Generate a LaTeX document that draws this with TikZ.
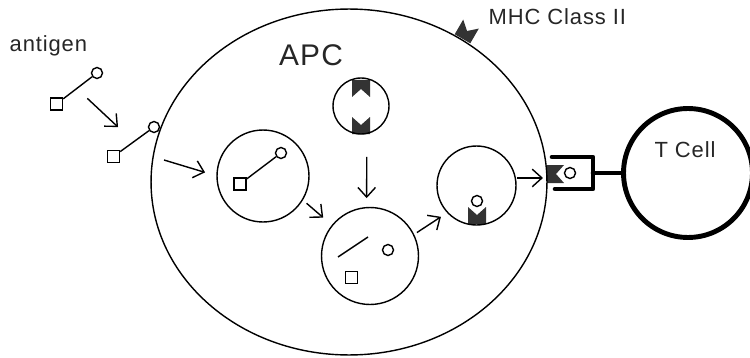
\documentclass[tikz,border=0pt]{standalone}
\usepackage{fontspec}
\setmainfont{Liberation Sans}
\newfontfamily\lblfont[LetterSpace=4]{Liberation Sans}
\usetikzlibrary{arrows.meta,shapes.geometric,calc}

\begin{document}
\begin{tikzpicture}[x=0.02cm,y=-0.02cm,line width=0.8pt,
        cell/.style={draw,circle,inner sep=0pt,outer sep=0pt},
        apc/.style={draw,ellipse,inner sep=0pt,outer sep=0pt},
        dot/.style={draw,circle,inner sep=0pt,minimum size=2.2mm},
        sq/.style={draw,rectangle,inner sep=0pt,minimum size=2.4mm},
        flow/.style={-{Straight Barb[length=5.5pt,width=10pt]}},
        receptor/.style={line width=2.6pt,line cap=round,line join=round},
        txt/.style={inner sep=0pt,text=black!85,font=\lblfont\fontsize{12.5}{14}\selectfont},
        pics/mhc/.style={code={\fill[black!80] (-9,9) -- (9,9) -- (9,-8) -- (0,0) -- (-9,-8) -- cycle;}}]
   \useasboundingbox (0,0) rectangle (750,358);
   % MHC class II molecules
   \pic[rotate=-30] at (467,31) {mhc};
   \pic[rotate=180] at (361,89) {mhc};
   \pic at (361,125) {mhc};
   \pic at (477,215) {mhc};
   \pic[rotate=-90] at (556,174) {mhc};
   % cells and vesicles
   \node[apc,minimum width=79.2mm,minimum height=69.2mm] (apc) at (349,182) {};
   \node[cell,minimum size=18.4mm] (endo) at (263,176) {};
   \node[cell,minimum size=11.2mm] (ves) at (361,106) {};
   \node[cell,minimum size=19.4mm] (lyso) at (370,256) {};
   \node[cell,minimum size=15.8mm] (load) at (476.5,185.5) {};
   \node[cell,line width=2.8pt,minimum size=25.8mm] (tcell) at (688,173) {};
   % antigen outside, then taken up
   \node[sq] (sq1) at (56.5,104) {};
   \node[dot] (dot1) at (97,73) {};
   \draw (sq1) -- (dot1);
   \node[sq] (sq2) at (113.5,156.5) {};
   \node[dot] (dot2) at (154,127) {};
   \draw (sq2) -- (dot2);
   \node[sq] (sq3) at (240,184) {};
   \node[dot] (dot3) at (281,153) {};
   \draw (sq3) -- (dot3);
   \coordinate (ag1) at ($(sq1)!.5!(dot1)$);
   \coordinate (ag2) at ($(sq2)!.5!(dot2)$);
   \coordinate (entry) at (164,160);
   % cut up
   \draw (338,257) -- (368,237);
   \node[dot] (pep1) at (388,250) {};
   \node[sq] (frag) at (351.5,277.5) {};
   % loaded and presented
   \node[dot] (pep2) at (477,201) {};
   \node[dot] (pep3) at (570,173) {};
   \coordinate (stem) at (593,173);
   \draw[receptor] (552,157) -| (593,189) -- (555,189);
   \draw[receptor] (stem) -- (tcell);
   % arrows
   \draw[flow,shorten <=2.9mm,shorten >=4.3mm] (ag1) -- (ag2);
   \draw[flow,shorten >=2.5mm] (entry) -- (endo.west);
   \draw[flow,shorten <=1.1mm,shorten >=2.4mm] (endo.-31) -- (lyso.141);
   \draw[flow,shorten <=4.7mm,shorten >=1.9mm] (ves.-78) -- (lyso.94);
   \draw[flow,shorten <=0.8mm,shorten >=1.6mm] (lyso.26) -- (load.223);
   \draw[flow,shorten <=0.3mm,shorten >=0.8mm] (load.11) -- (load.11 -| apc.east);
   % labels
   \node[txt,anchor=base west] (lblag) at (9,52) {antigen};
   \node[txt,anchor=base west] (lblmhc) at (488,25) {MHC Class II};
   \node[txt,anchor=base] (lbltc) at (685,157) {T Cell};
   \node[txt,anchor=base,font=\lblfont\fontsize{17}{20}\selectfont] (lblapc) at (311,66) {APC};
\end{tikzpicture}
\end{document}
